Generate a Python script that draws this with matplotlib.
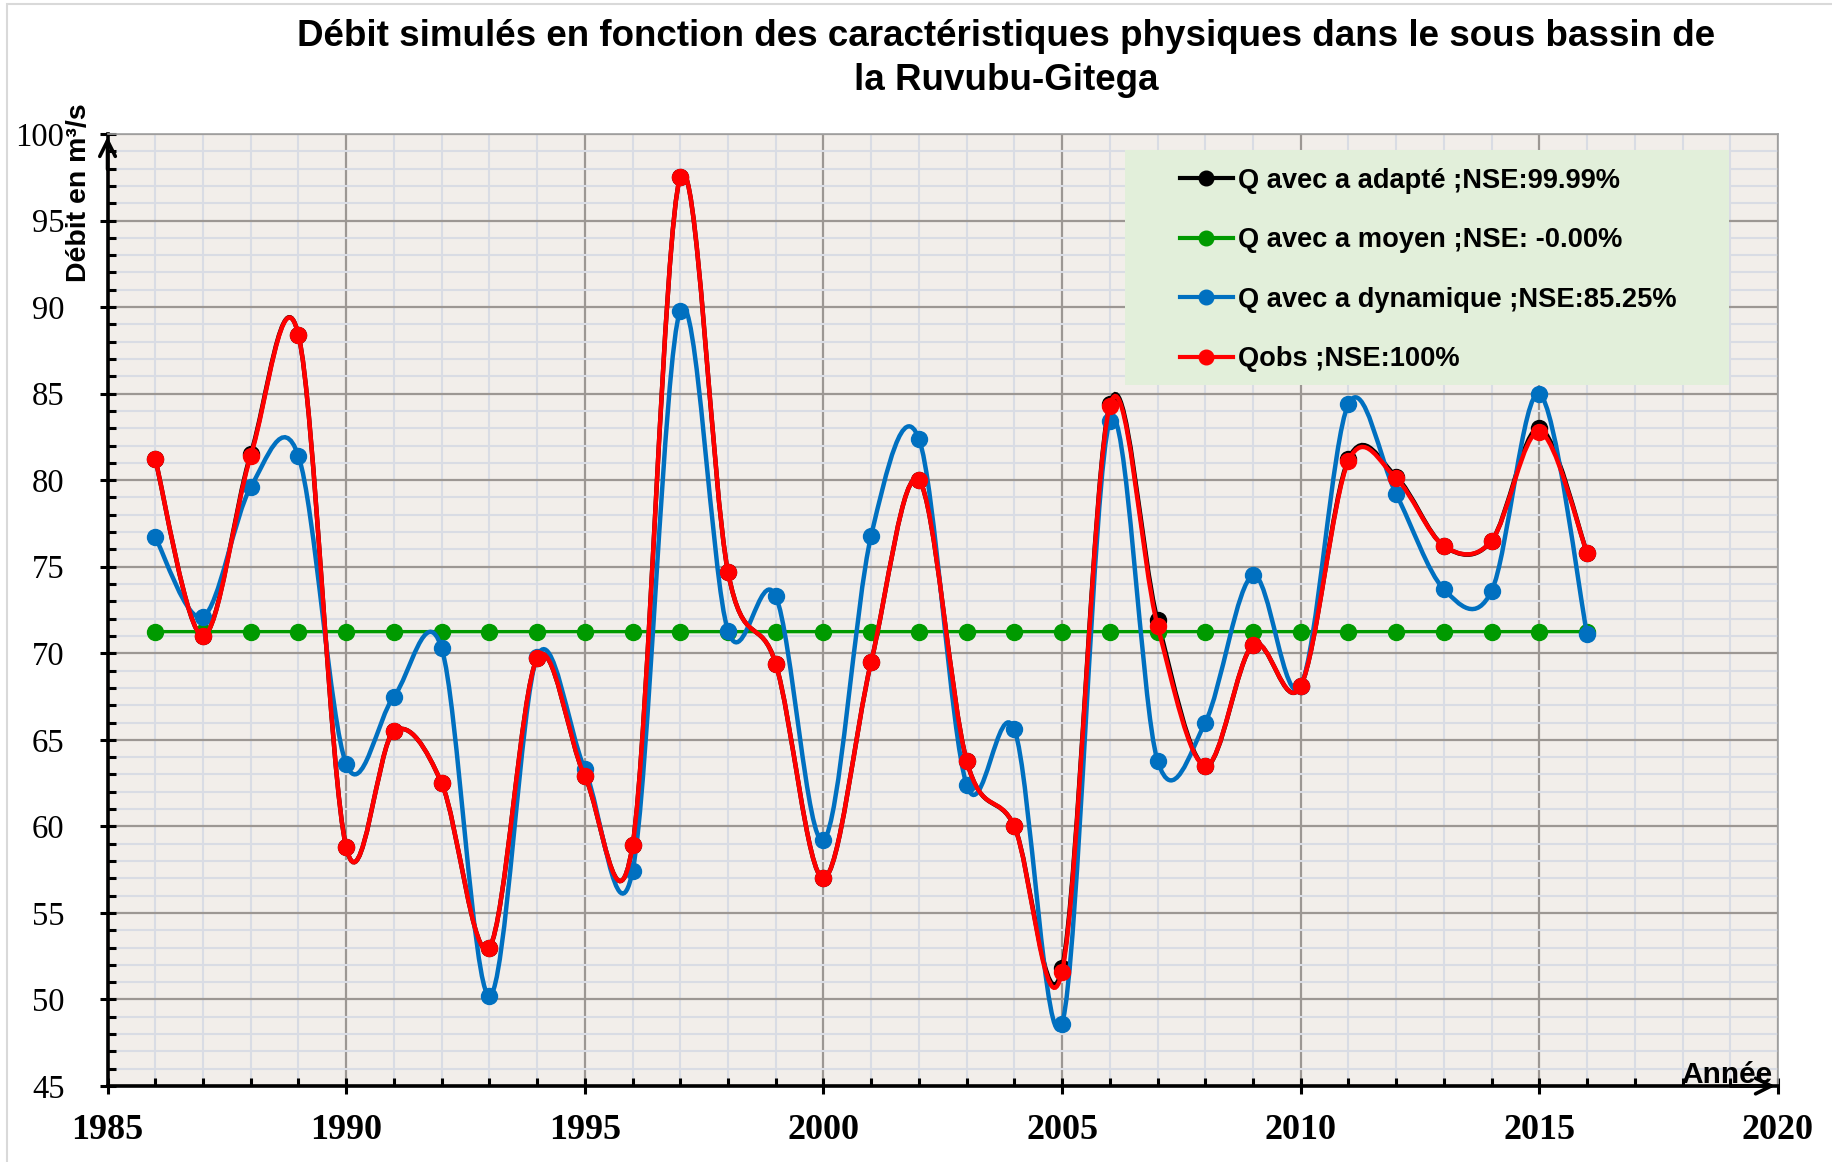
#!/usr/bin/env python3

import matplotlib.pyplot as plt
from matplotlib.path import Path
from matplotlib.patches import PathPatch, Rectangle
from matplotlib.lines import Line2D
from matplotlib.ticker import MultipleLocator

years = list(range(1986, 2017))
q_obs = [81.2, 71.0, 81.4, 88.4, 58.8, 65.5, 62.5, 53.0, 69.7, 62.9, 58.9,
         97.5, 74.7, 69.4, 57.0, 69.5, 80.0, 63.8, 60.0, 51.6, 84.3, 71.6,
         63.5, 70.5, 68.1, 81.1, 80.1, 76.2, 76.5, 82.8, 75.8]
q_adapte = [81.2, 71.0, 81.5, 88.4, 58.8, 65.5, 62.5, 53.0, 69.7, 62.9, 58.9,
            97.5, 74.7, 69.4, 57.0, 69.5, 80.0, 63.8, 60.0, 51.8, 84.4, 71.9,
            63.5, 70.5, 68.1, 81.2, 80.2, 76.2, 76.5, 83.0, 75.8]
q_moyen = [71.25] * len(years)
q_dynamique = [76.7, 72.1, 79.6, 81.4, 63.6, 67.5, 70.3, 50.2, 69.8, 63.3, 57.4,
               89.8, 71.3, 73.3, 59.2, 76.8, 82.4, 62.4, 65.6, 48.6, 83.4, 63.8,
               66.0, 74.5, 68.1, 84.4, 79.2, 73.7, 73.6, 85.0, 71.1]

labels = ['Q avec a adapté ;NSE:99.99%', 'Q avec a moyen ;NSE: -0.00%',
          'Q avec a dynamique ;NSE:85.25%', 'Qobs ;NSE:100%']
colors = ['black', '#009A00', '#0070C0', '#FF0000']


def smooth_path(x, y):
    # bezier like the "smoothed line" option of a spreadsheet chart
    n = len(x)
    verts = [(x[0], y[0])]
    codes = [Path.MOVETO]
    for i in range(n - 1):
        xa, ya = (x[i - 1], y[i - 1]) if i > 0 else (x[i], y[i])
        xb, yb = (x[i + 2], y[i + 2]) if i + 2 < n else (x[i + 1], y[i + 1])
        c1 = (x[i] + (x[i + 1] - xa) / 6, y[i] + (y[i + 1] - ya) / 6)
        c2 = (x[i + 1] - (xb - x[i]) / 6, y[i + 1] - (yb - y[i]) / 6)
        verts += [c1, c2, (x[i + 1], y[i + 1])]
        codes += [Path.CURVE4] * 3
    return Path(verts, codes)


fig = plt.figure(figsize=(18.32, 11.62), dpi=100)
ax = fig.add_axes([0.0587, 0.0654, 0.9118, 0.8193])
ax.set_facecolor('#F2EEEA')
ax.set_xlim(1985, 2020)
ax.set_ylim(45, 100)

ax.xaxis.set_major_locator(MultipleLocator(5))
ax.xaxis.set_minor_locator(MultipleLocator(1))
ax.yaxis.set_major_locator(MultipleLocator(5))
ax.yaxis.set_minor_locator(MultipleLocator(1))
ax.grid(which='minor', color='#D9DCE4', lw=1.5, zorder=0)
ax.grid(which='major', color='#9C9793', lw=1.6, zorder=0)
ax.set_axisbelow(True)

ax.tick_params(which='major', direction='inout', length=12, width=2.2,
               color='black')
ax.tick_params(which='minor', direction='in', length=6, width=2.2,
               color='black')
ax.tick_params(axis='y', which='major', pad=25)
ax.tick_params(axis='x', which='major', pad=14)
for lab in ax.get_yticklabels():
    lab.set_fontfamily('Liberation Serif')
    lab.set_fontsize(23.5)
for lab in ax.get_xticklabels():
    lab.set_fontfamily('Liberation Serif')
    lab.set_fontsize(26)
    lab.set_fontweight('bold')

for side in ['left', 'bottom']:
    ax.spines[side].set_linewidth(2.6)
    ax.spines[side].set_color('black')
for side in ['top', 'right']:
    ax.spines[side].set_linewidth(1.2)
    ax.spines[side].set_color('#A0A0A0')

# axis arrows
ax.annotate('', xy=(0, 1.0), xytext=(0, 0.96), xycoords='axes fraction',
            arrowprops=dict(arrowstyle='->', lw=2.6, color='black',
                            mutation_scale=28), annotation_clip=False)
ax.annotate('', xy=(1.0, 0), xytext=(0.97, 0), xycoords='axes fraction',
            arrowprops=dict(arrowstyle='->', lw=2.6, color='black',
                            mutation_scale=28), annotation_clip=False)

series = [q_adapte, q_moyen, q_dynamique, q_obs]
order = [1, 2, 0, 3]
for k in order:
    lw = 2.4 if k == 1 else 3.2
    ax.add_patch(PathPatch(smooth_path(years, series[k]), facecolor='none',
                           edgecolor=colors[k], lw=lw, zorder=3 + k))
    ax.plot(years, series[k], 'o', color=colors[k], ms=11.5, zorder=3 + k)

# legend box
ax.add_patch(Rectangle((0.609, 0.7363), 0.3617, 0.2467, transform=ax.transAxes,
                       facecolor='#E2EFDA', edgecolor='none', zorder=10))
handles = [Line2D([], [], color=c, lw=3, marker='o', ms=10.5) for c in colors]
leg = ax.legend(handles, labels, loc='upper left',
                bbox_to_anchor=(0.642, 0.9645), frameon=False, borderpad=0,
                borderaxespad=0, handlelength=1.95, handletextpad=0.2,
                labelspacing=1.23,
                prop={'family': 'Liberation Sans', 'weight': 'bold', 'size': 19.6})
leg.set_zorder(11)

fig.text(0.549, 1 - 36 / 1162,
         'Débit simulés en fonction des caractéristiques physiques dans le sous bassin de',
         ha='center', va='center', fontsize=26.5, fontweight='bold',
         family='Liberation Sans')
fig.text(0.549, 1 - 81 / 1162, 'la Ruvubu-Gitega', ha='center', va='center',
         fontsize=26.5, fontweight='bold', family='Liberation Sans')
fig.text(79 / 1832, 1 - 193 / 1162, 'Débit en m³/s', rotation=90,
         ha='center', va='center', fontsize=20.5, fontweight='bold',
         family='Liberation Sans')
fig.text(1772 / 1832, 1 - 1083 / 1162, 'Année', ha='right', va='baseline',
         fontsize=21.5, fontweight='bold', family='Liberation Sans')

fig.patches.append(Rectangle((7 / 1832, -0.01), 1.1, 1.01 - 4 / 1162,
                             transform=fig.transFigure, fill=False,
                             edgecolor='#D9D9D9', lw=1.5))

plt.savefig('out.png', dpi=100)
